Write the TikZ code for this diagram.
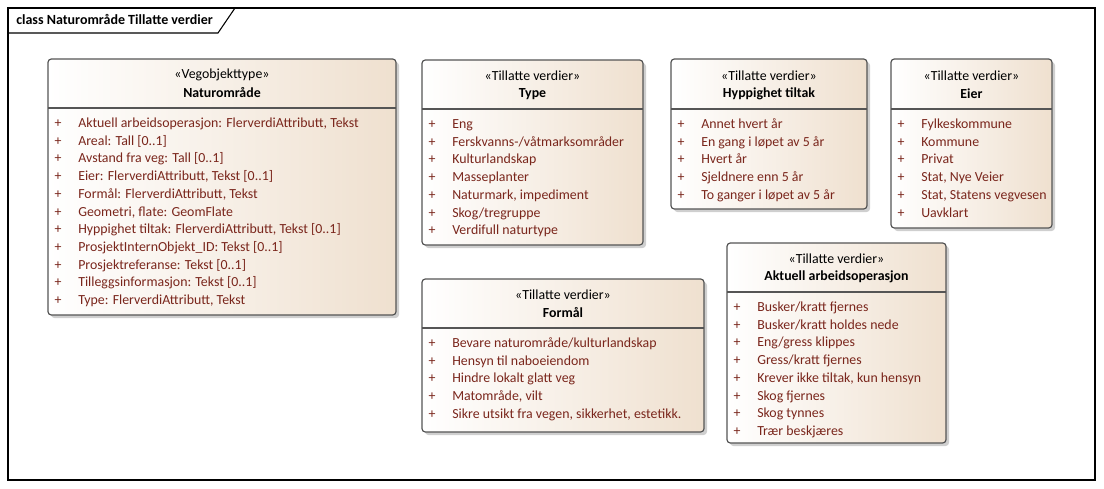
\documentclass[tikz,border=0pt]{standalone}
\usepackage{fontspec}
\setmainfont{Carlito}
\usepackage{xcolor}
\definecolor{boxFill}{RGB}{239,224,207}
\definecolor{boxLine}{RGB}{85,85,85}
\definecolor{attrText}{RGB}{122,38,28}
\definecolor{shadowGrey}{RGB}{150,150,150}

\tikzset{
  boxshape/.style={draw=boxLine,line width=0.9pt,rounded corners=2.5pt,
                   left color=white,right color=boxFill},
  boxshadow/.style={fill=shadowGrey,opacity=0.45,rounded corners=2.5pt},
  stereo/.style={font=\fontsize{10.4}{12}\selectfont,inner sep=0pt},
  classname/.style={font=\bfseries\fontsize{10.4}{12}\selectfont,inner sep=0pt},
  plussign/.style={font=\fontsize{10.4}{12}\selectfont,text=attrText,anchor=base,inner sep=0pt},
  attr/.style={font=\fontsize{10.4}{12}\selectfont,text=attrText,anchor=base west,inner sep=0pt}
}

% name, left, top, right, bottom, divider, stereotype, title, items
\newcommand{\umlbox}[9]{%
  \fill[boxshadow] (#2+3,#3+3) rectangle (#4+3,#5+3);
  \draw[boxshape] (#2,#3) rectangle (#4,#5);
  \draw[boxLine,line width=0.9pt] (#2,#6) -- (#4,#6);
  \node[stereo] (#1-st) at ({(#2+#4)/2},#6-33) {«#7»};
  \node[classname] (#1-ti) at ({(#2+#4)/2},#6-15) {#8};
  \foreach \txt [count=\i] in {#9}
    {\node[plussign] at (#2+10,{#6+19.5+(\i-1)*17.7}) {+};
     \node[attr] (#1-\i) at (#2+30,{#6+19.5+(\i-1)*17.7}) {\txt};}
}

\begin{document}
\begin{tikzpicture}[x=0.75pt,y=-0.75pt]
  \useasboundingbox (0,0) rectangle (1104,489);
  \fill[white] (0,0) rectangle (1104,489);
  % diagram frame
  \draw[black,line width=0.8pt] (8,8) rectangle (1095,480);
  \draw[black,line width=0.8pt] (8,33) -- (218,33) -- (235,8);
  \node[font=\bfseries\fontsize{10.5}{12}\selectfont,anchor=base west,inner sep=0pt]
    (frametitle) at (16,25) {class Naturområde Tillatte verdier};

  \umlbox{nat}{48}{59}{396}{315}{108}{Vegobjekttype}{Naturområde}
    {{Aktuell arbeidsoperasjon: FlerverdiAttributt, Tekst},
     {Areal: Tall [0..1]},
     {Avstand fra veg: Tall [0..1]},
     {Eier: FlerverdiAttributt, Tekst [0..1]},
     {Formål: FlerverdiAttributt, Tekst},
     {Geometri, flate: GeomFlate},
     {Hyppighet tiltak: FlerverdiAttributt, Tekst [0..1]},
     {ProsjektInternObjekt\_ID: Tekst [0..1]},
     {Prosjektreferanse: Tekst [0..1]},
     {Tilleggsinformasjon: Tekst [0..1]},
     {Type: FlerverdiAttributt, Tekst}}

  \umlbox{type}{422}{60}{643}{245}{109}{Tillatte verdier}{Type}
    {Eng,Ferskvanns-/våtmarksområder,Kulturlandskap,Masseplanter,
     {Naturmark, impediment},Skog/tregruppe,Verdifull naturtype}

  \umlbox{hyp}{671}{59}{867}{209}{109}{Tillatte verdier}{Hyppighet tiltak}
    {Annet hvert år,En gang i løpet av 5 år,Hvert år,Sjeldnere enn 5 år,
     To ganger i løpet av 5 år}

  \umlbox{eier}{891}{59}{1052}{228}{109}{Tillatte verdier}{Eier}
    {Fylkeskommune,Kommune,Privat,{Stat, Nye Veier},
     {Stat, Statens vegvesen},Uavklart}

  \umlbox{formaal}{422}{279}{704}{432}{328}{Tillatte verdier}{Formål}
    {Bevare naturområde/kulturlandskap,Hensyn til naboeiendom,
     Hindre lokalt glatt veg,{Matområde, vilt},
     {Sikre utsikt fra vegen, sikkerhet, estetikk.}}

  \umlbox{akt}{727}{243}{946}{443}{292}{Tillatte verdier}{Aktuell arbeidsoperasjon}
    {Busker/kratt fjernes,Busker/kratt holdes nede,Eng/gress klippes,
     Gress/kratt fjernes,{Krever ikke tiltak, kun hensyn},Skog fjernes,
     Skog tynnes,Trær beskjæres}
\end{tikzpicture}
\end{document}
